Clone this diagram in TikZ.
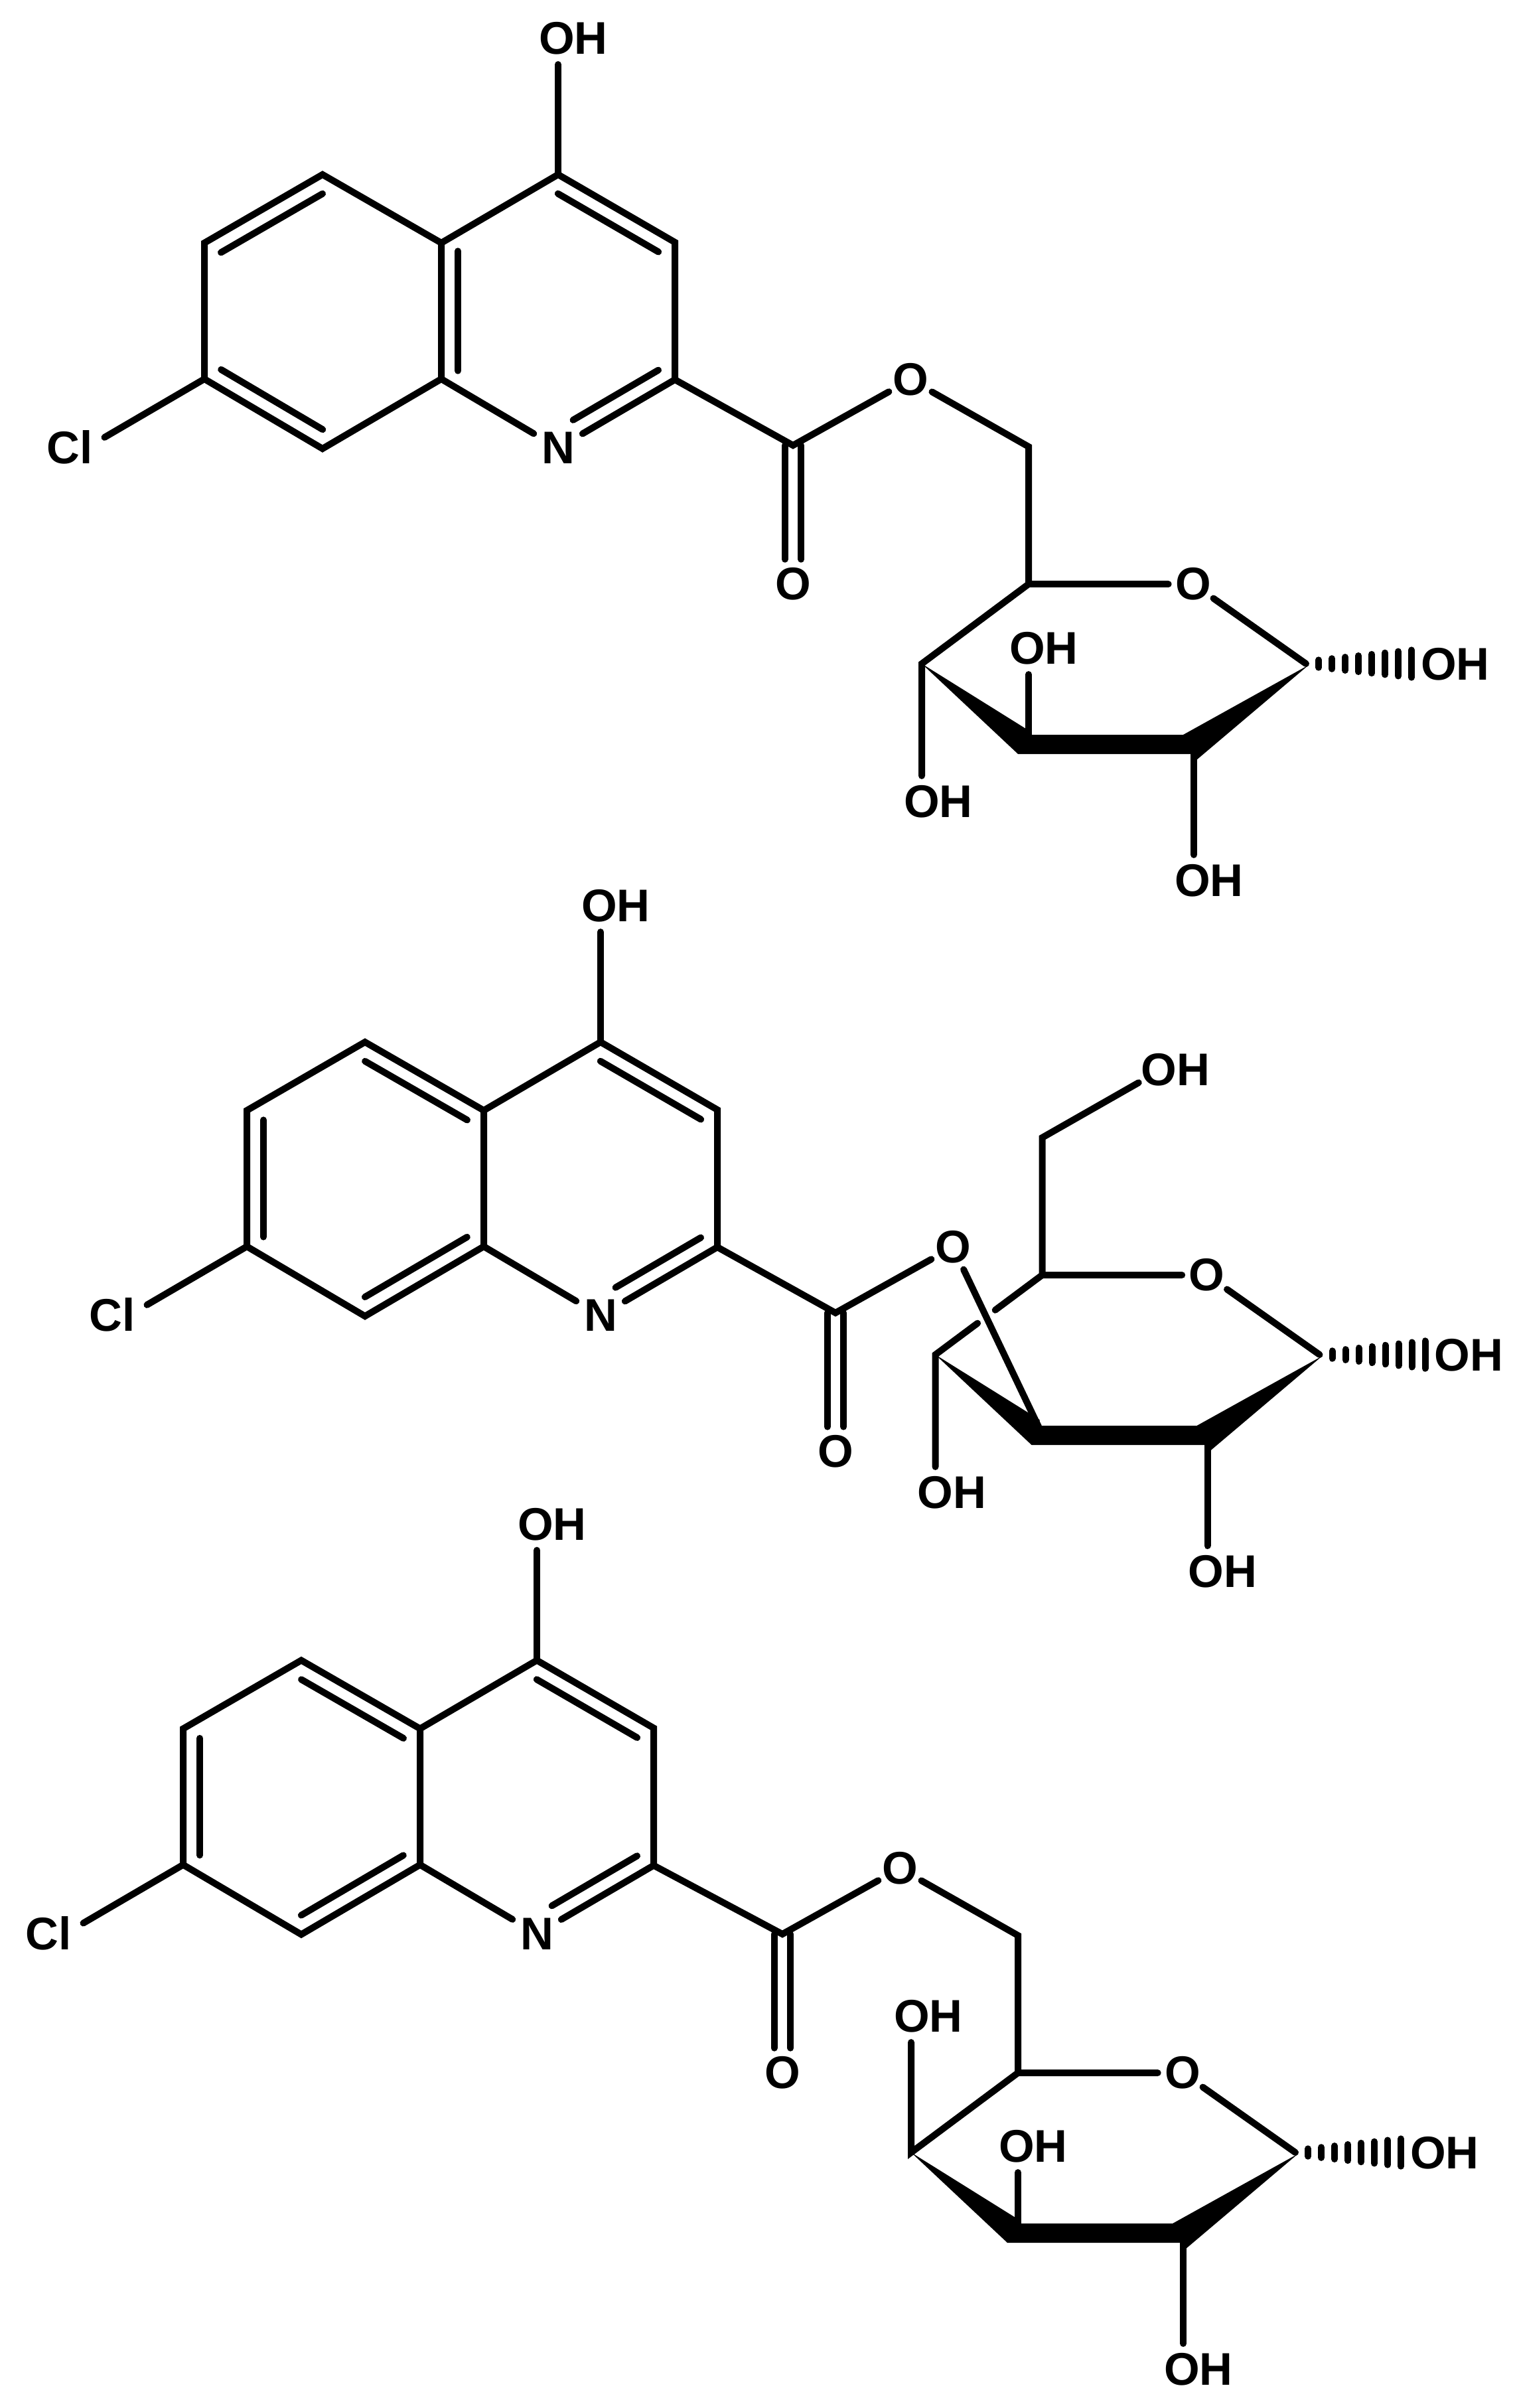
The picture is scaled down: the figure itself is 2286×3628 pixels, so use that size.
\documentclass[tikz,border=0pt]{standalone}
\usepackage{fontspec}
\setmainfont{Liberation Sans}
\usetikzlibrary{calc}
\tikzset{
    bond/.style={line width=3pt,line cap=round,line join=miter},
    wedge/.style={fill=black,draw=none},
    lbl/.style={font=\bfseries\fontsize{20.7pt}{20.7pt}\selectfont,inner xsep=1pt,inner ysep=4.2pt},
    atom/.style={font=\bfseries\fontsize{20.7pt}{20.7pt}\selectfont,circle,inner sep=0pt,minimum size=22pt}
}
\newcommand{\innerbond}[4]{\draw[bond] ($(#1)!#3!(#2)!7.5pt!90:(#2)$) -- ($(#1)!#4!(#2)!7.5pt!90:(#2)$);}
\newcommand{\quinolinepart}[1]{%
    \coordinate (#1c4) at (841,263);
    \coordinate (#1c3) at (1017,365);
    \coordinate (#1c2) at (1017,572);
    \coordinate (#1c8a) at (665,571);
    \coordinate (#1c4a) at (665,366);
    \coordinate (#1c5) at (486,263);
    \coordinate (#1c6) at (308,366);
    \coordinate (#1c7) at (308,571);
    \coordinate (#1c8) at (486,676);
    \node[atom,minimum size=25.2pt] (#1n) at (841,675) {N};
    \node[lbl] (#1oh) at (864,58) {OH};
    \node[lbl,inner xsep=5.2pt] (#1cl) at (105,674) {Cl};
    \draw[bond] (#1c4a) -- (#1c5) -- (#1c6) -- (#1c7) -- (#1c8) -- (#1c8a) -- cycle;
    \draw[bond] (#1c4a) -- (#1c4) -- (#1c3) -- (#1c2);
    \draw[bond] (#1c8a) -- (#1n) -- (#1c2);
    \draw[bond] (#1c4) -- (#1c4 |- #1oh.south);
    \draw[bond] (#1c7) -- (#1cl.16);
    \innerbond{#1c3}{#1c4}{.07}{.93}
    \innerbond{#1n}{#1c2}{.2}{.93}
}
\newcommand{\esterpart}[1]{%
    \coordinate (#1cc) at (1195,671);
    \node[atom] (#1ok) at (1195,880) {O};
    \node[atom] (#1oe) at (1372,572) {O};
    \draw[bond] (#1c2) -- (#1cc) -- (#1oe);
    \draw[bond] ([xshift=-3.7pt]#1cc) -- ([xshift=-3.7pt]#1ok.north);
    \draw[bond] ([xshift=3.7pt]#1cc) -- ([xshift=3.7pt]#1ok.north);
}
\newcommand{\sugarpart}[1]{%
    \coordinate (#1c5) at (1550,880);
    \coordinate (#1c4) at (1389,1000);
    \coordinate (#1c3) at (1550,1120);
    \coordinate (#1c2) at (1799,1120);
    \coordinate (#1c1) at (1968,1000);
    \coordinate (#1ch) at (1550,673);
    \node[atom] (#1ro) at (1798,880) {O};
    \node[lbl] (#1oh1) at (2193,1001) {OH};
    \node[lbl] (#1oh2) at (1822,1327) {OH};
    \fill[wedge] (#1c4) -- (1546,1098) -- (1546,1107) -- (1783,1107) -- ([shift={(4,2)}]#1c1) -- (1803,1145) -- (1795,1136) -- (1534,1136) -- cycle;
    \draw[bond] (#1c5) -- (#1ro) -- (#1c1);
    \draw[bond] (#1c2) -- (#1c2 |- #1oh2.north);
    \foreach \i in {0,...,7}
        \draw[bond] ([shift={(19+20*\i,5.7+2.14*\i)}]#1c1) -- ([shift={(19+20*\i,-5.7-2.14*\i)}]#1c1);
}
\begin{document}
\begin{tikzpicture}[x=0.3pt,y=-0.3pt]
\useasboundingbox (0,0) rectangle (2286,3628);
\quinolinepart{a}
\esterpart{a}
\innerbond{ac5}{ac6}{.07}{.93}
\innerbond{ac7}{ac8}{.07}{.93}
\innerbond{ac4a}{ac8a}{.06}{.94}
\sugarpart{d}
\node[lbl] (doh3) at (1573,977) {OH};
\node[lbl] (doh4) at (1414,1208) {OH};
\draw[bond] (doh3.south -| dc3) -- (dc3);
\draw[bond] (aoe) -- (dch) -- (dc5) -- (dc4) -- (dc4 |- doh4.north);
\begin{scope}[shift={(64,1307)}]
    \quinolinepart{b}
    \esterpart{b}
    \innerbond{bc6}{bc7}{.07}{.93}
    \innerbond{bc4a}{bc5}{.07}{.93}
    \innerbond{bc8}{bc8a}{.07}{.93}
\end{scope}
\begin{scope}[shift={(20.5,1041)}]
    \sugarpart{e}
    \node[lbl] (eoh4) at (1414,1208) {OH};
    \node[lbl] (eoh6) at (1751,571) {OH};
    \draw[bond] (eoh6.199) -- (ech) -- (ec5) -- ($(ec5)!.44!(ec4)$);
    \draw[bond] ($(ec5)!.605!(ec4)$) -- (ec4) -- (ec4 |- eoh4.north);
    \draw[bond] (boe) -- (ec3);
\end{scope}
\begin{scope}[shift={(-32,2238.5)}]
    \quinolinepart{c}
    \innerbond{cc6}{cc7}{.07}{.93}
    \innerbond{cc4a}{cc5}{.07}{.93}
    \innerbond{cc8}{cc8a}{.07}{.93}
\end{scope}
\begin{scope}[shift={(-16,2243)}]
    \esterpart{c}
    \sugarpart{f}
    \node[lbl] (foh3) at (1573,991) {OH};
    \node[lbl] (foh4) at (1415,795) {OH};
    \draw[bond] (foh3.south -| fc3) -- (fc3);
    \draw[bond] (coe) -- (fch) -- (fc5) -- (fc4) -- (fc4 |- foh4.south);
\end{scope}
\end{tikzpicture}
\end{document}
